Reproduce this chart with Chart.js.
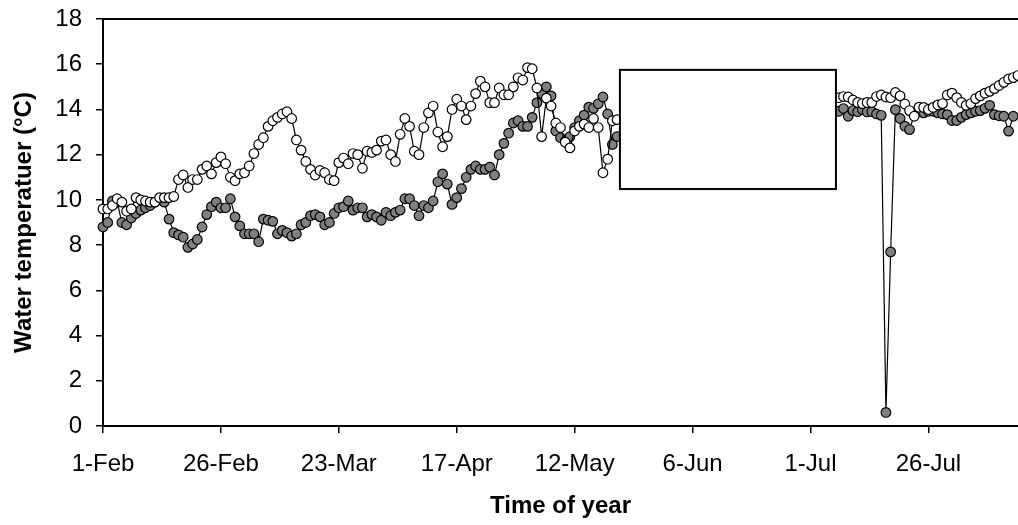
<!DOCTYPE html>
<html>
<head>
<meta charset="utf-8">
<title>Water temperature</title>
<script src="https://cdn.jsdelivr.net/npm/chart.js@4.4.1/dist/chart.umd.min.js"></script>
<style>
  html, body { margin: 0; padding: 0; background: #fff; }
  #chart-temp { display: block; }
</style>
</head>
<body>
<canvas id="chart-temp" width="1018" height="525"></canvas>
<script>
// x axis: days counted from 1-Feb, one tick every 25 days
const TICK_LABELS = ['1-Feb', '26-Feb', '23-Mar', '17-Apr', '12-May', '6-Jun', '1-Jul', '26-Jul'];
const TICK_STEP = 25;
const LAST_DAY = 194;

// first day of each run of readings (the middle of the season is under the blank box)
const EARLY_START = 0;
const LATE_START = 155;

// open markers
const openEarly = [
  9.6, 9.6, 9.75, 10.05, 9.9, 9.5, 9.6, 10.1, 10.0, 9.95,
  9.9, 9.9, 10.1, 10.1, 10.1, 10.15, 10.9, 11.1, 10.55, 10.9,
  10.9, 11.35, 11.5, 11.15, 11.65, 11.9, 11.6, 11.0, 10.85, 11.15,
  11.2, 11.5, 12.05, 12.45, 12.75, 13.25, 13.5, 13.65, 13.8, 13.9,
  13.6, 12.65, 12.2, 11.7, 11.35, 11.1, 11.3, 11.2, 10.9, 10.85,
  11.65, 11.85, 11.6, 12.05, 12.0, 11.4, 12.15, 12.1, 12.2, 12.6,
  12.65, 12.0, 11.7, 12.9, 13.6, 13.25, 12.15, 12.0, 13.2, 13.85,
  14.15, 13.0, 12.35, 12.8, 14.0, 14.45, 14.15, 13.55, 14.15, 14.7,
  15.25, 15.0, 14.3, 14.3, 14.95, 14.65, 14.65, 15.0, 15.4, 15.3,
  15.85, 15.8, 14.95, 12.8, 14.5, 14.15, 13.4, 13.2, 12.55, 12.3,
  13.05, 13.25, 13.35, 13.2, 13.6, 13.2, 11.2, 11.8, 13.5, 13.55,
];
const openLate = [
  14.5, 14.52, 14.57, 14.55, 14.42, 14.31, 14.26, 14.31, 14.31, 14.57,
  14.64, 14.55, 14.52, 14.75, 14.6, 14.24, 13.95, 13.7, 14.1, 14.09,
  14.0, 14.09, 14.2, 14.26, 14.64, 14.72, 14.52, 14.31, 14.18, 14.26,
  14.48, 14.6, 14.72, 14.8, 14.92, 15.06, 15.2, 15.35, 15.41, 15.5,
];

// grey markers
const filledEarly = [
  8.8, 9.0, 9.95, 9.9, 9.0, 8.9, 9.2, 9.4, 9.55, 9.65,
  9.75, 9.9, 10.0, 9.9, 9.15, 8.55, 8.45, 8.35, 7.9, 8.05,
  8.25, 8.8, 9.35, 9.7, 9.9, 9.65, 9.65, 10.05, 9.25, 8.85,
  8.5, 8.5, 8.5, 8.15, 9.15, 9.1, 9.05, 8.5, 8.65, 8.55,
  8.4, 8.5, 8.9, 9.0, 9.3, 9.35, 9.25, 8.9, 9.0, 9.4,
  9.65, 9.7, 9.95, 9.55, 9.65, 9.65, 9.25, 9.35, 9.25, 9.1,
  9.45, 9.3, 9.45, 9.55, 10.05, 10.05, 9.75, 9.3, 9.75, 9.65,
  9.95, 10.8, 11.15, 10.7, 9.8, 10.1, 10.5, 11.0, 11.35, 11.5,
  11.35, 11.35, 11.45, 11.1, 12.0, 12.5, 12.95, 13.4, 13.5, 13.25,
  13.25, 13.65, 14.3, 14.7, 15.0, 14.6, 13.05, 12.75, 12.6, 12.8,
  13.2, 13.5, 13.75, 14.1, 14.05, 14.25, 14.55, 13.8, 12.45, 12.8,
];
const filledLate = [
  13.9, 13.92, 14.04, 13.7, 13.95, 13.9, 13.99, 13.89, 13.9, 13.8,
  13.74, 0.6, 7.7, 13.99, 13.6, 13.26, 13.11, 13.75, 13.9, 13.85,
  13.92, 13.92, 13.85, 13.8, 13.77, 13.51, 13.51, 13.65, 13.77, 13.85,
  13.92, 13.95, 14.05, 14.18, 13.77, 13.72, 13.7, 13.04, 13.7,
];

// blank rectangle laid over the data (days / degrees)
const BLANK_BOX = { fromDay: 109.6, toDay: 155.4, low: 10.48, high: 15.75 };

const POLICE = 'Liberation Sans, Arial, Helvetica, sans-serif';

function versPoints(debut, valeurs) {
  return valeurs.map((v, i) => ({ x: debut + i, y: v }));
}

const cadreHaut = {
  id: 'cadreHaut',
  afterDraw(chart) {
    const { ctx, chartArea } = chart;
    ctx.save();
    ctx.strokeStyle = '#000';
    ctx.lineWidth = 2;
    ctx.beginPath();
    ctx.moveTo(chartArea.left, chartArea.top);
    ctx.lineTo(chartArea.right, chartArea.top);
    ctx.stroke();
    ctx.restore();
  },
};

const caseVide = {
  id: 'caseVide',
  afterDatasetsDraw(chart) {
    const { ctx, scales: { x, y } } = chart;
    const gauche = x.getPixelForValue(BLANK_BOX.fromDay);
    const droite = x.getPixelForValue(BLANK_BOX.toDay);
    const haut = y.getPixelForValue(BLANK_BOX.high);
    const bas = y.getPixelForValue(BLANK_BOX.low);
    ctx.save();
    ctx.fillStyle = '#fff';
    ctx.fillRect(gauche, haut, droite - gauche, bas - haut);
    ctx.strokeStyle = '#000';
    ctx.lineWidth = 2;
    ctx.strokeRect(gauche, haut, droite - gauche, bas - haut);
    ctx.restore();
  },
};

function serie(label, points, fond) {
  return {
    label,
    data: points,
    borderColor: '#000',
    borderWidth: 1.2,
    tension: 0,
    pointRadius: 4.8,
    pointBorderWidth: 1.2,
    pointBorderColor: '#000',
    pointBackgroundColor: fond,
    clip: false,
  };
}

Chart.defaults.font.family = POLICE;
Chart.defaults.color = '#000';

const ctx = document.getElementById('chart-temp').getContext('2d');

new Chart(ctx, {
  type: 'line',
  data: {
    datasets: [
      // first dataset is painted last, so the open markers sit on top
      serie('open', [...versPoints(EARLY_START, openEarly), ...versPoints(LATE_START, openLate)], '#fff'),
      serie('filled', [...versPoints(EARLY_START, filledEarly), ...versPoints(LATE_START, filledLate)], '#808080'),
    ],
  },
  options: {
    responsive: false,
    animation: false,
    devicePixelRatio: 1,
    layout: { autoPadding: false, padding: { top: 19, right: 0, bottom: 0, left: 0 } },
    plugins: { legend: { display: false }, tooltip: { enabled: false } },
    scales: {
      x: {
        type: 'linear',
        min: 0,
        max: LAST_DAY,
        afterBuildTicks: (scale) => {
          scale.ticks = TICK_LABELS.map((_, i) => ({ value: i * TICK_STEP }));
        },
        afterFit: (scale) => {
          scale.height = 99;
          scale.paddingLeft = 0;
          scale.paddingRight = 0;
        },
        ticks: {
          callback: (val) => TICK_LABELS[Math.round(val / TICK_STEP)],
          font: { size: 24 },
          padding: 17,
          maxRotation: 0,
          autoSkip: false,
        },
        grid: { drawOnChartArea: false, drawTicks: true, tickLength: 7, color: '#000', lineWidth: 1.5 },
        border: { color: '#000', width: 2 },
        title: {
          display: true,
          text: 'Time of year',
          font: { size: 24, weight: 'bold' },
          padding: { top: 0, bottom: 4 },
        },
      },
      y: {
        min: 0,
        max: 18,
        afterFit: (scale) => {
          scale.width = 103;
          scale.paddingTop = 0;
          scale.paddingBottom = 0;
        },
        ticks: { stepSize: 2, font: { size: 24 }, padding: 14 },
        grid: { drawOnChartArea: false, drawTicks: true, tickLength: 7, color: '#000', lineWidth: 1.5 },
        border: { color: '#000', width: 2 },
        title: {
          display: true,
          text: 'Water temperatuer (°C)',
          font: { size: 24, weight: 'bold' },
          padding: { top: 10, bottom: 0 },
        },
      },
    },
  },
  plugins: [caseVide, cadreHaut],
});
</script>
</body>
</html>
